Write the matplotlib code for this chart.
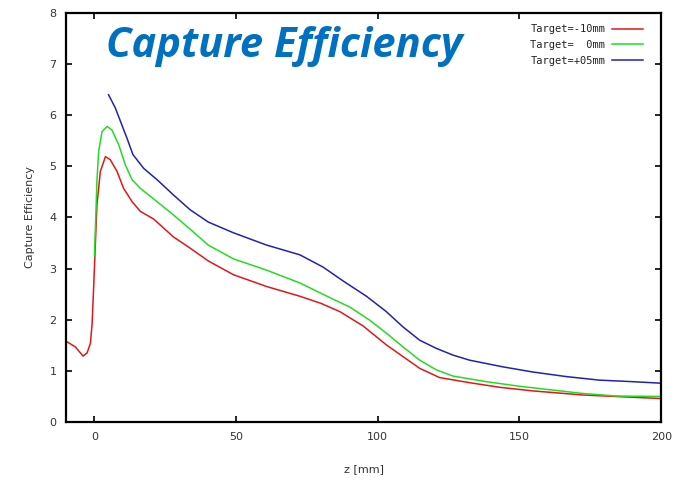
import matplotlib
matplotlib.use("Agg")
import matplotlib.pyplot as plt

# capture efficiency vs z for three target positions
z_m10 = [-10, -6.7, -4.0, -2.6, -1.4, -0.8, -0.2, 0.35, 0.9, 2.1, 3.9, 5.6, 8.0, 10.3,
         13.3, 16.2, 20.9, 27.9, 33.8, 40.2, 49.1, 60.8, 72.5, 80, 86.6, 94.8, 103,
         108.9, 114.8, 121.8, 132.4, 143, 154.6, 172.2, 184, 200]
ce_m10 = [1.58, 1.47, 1.29, 1.35, 1.54, 1.93, 2.72, 3.50, 4.25, 4.90, 5.19, 5.13, 4.90, 4.57,
          4.31, 4.12, 3.97, 3.62, 3.40, 3.15, 2.88, 2.65, 2.46, 2.32, 2.16, 1.88, 1.51,
          1.28, 1.05, 0.87, 0.77, 0.68, 0.61, 0.53, 0.50, 0.46]

z_0 = [0.0, 0.35, 0.9, 1.5, 2.7, 4.5, 6.2, 8.6, 10.9, 13.3, 16.2, 22.1, 27.9, 33.8,
       40.2, 49.1, 60.8, 72.5, 84.3, 90.1, 97.2, 103, 108.9, 114.8, 120.7, 126.5,
       138.3, 150, 172.2, 184, 200]
ce_0 = [3.25, 3.79, 4.72, 5.29, 5.68, 5.78, 5.71, 5.42, 5.03, 4.74, 4.57, 4.31, 4.05, 3.77,
        3.46, 3.19, 2.97, 2.72, 2.40, 2.25, 1.99, 1.74, 1.47, 1.21, 1.02, 0.90,
        0.79, 0.70, 0.56, 0.51, 0.50]

z_p05 = [5.0, 7.4, 9.2, 11.5, 13.6, 17.4, 22.1, 27.9, 33.8, 40.2, 49.1, 60.8, 72.5, 80.7,
         88, 96, 103, 108.9, 114.8, 120.7, 126.5, 132.4, 144.1, 154.6, 166.4, 178.2,
         189.9, 200]
ce_p05 = [6.40, 6.14, 5.88, 5.55, 5.23, 4.96, 4.74, 4.44, 4.15, 3.91, 3.70, 3.46, 3.27, 3.03,
          2.75, 2.46, 2.16, 1.86, 1.60, 1.44, 1.31, 1.21, 1.08, 0.98, 0.89, 0.82,
          0.79, 0.76]

labels = ["Target=-10mm", "Target=  0mm", "Target=+05mm"]
colors = ["#e01818", "#22dd22", "#2222b0"]

fig = plt.figure(figsize=(6.74, 4.78), dpi=100)
ax = fig.add_axes([0.098, 0.117, 0.883, 0.856])

for z, ce, lab, col in zip([z_m10, z_0, z_p05], [ce_m10, ce_0, ce_p05], labels, colors):
    ax.plot(z, ce, color=col, lw=1.1, label=lab)

ax.set_xlim(-10, 200)
ax.set_ylim(0, 8)
ax.set_xticks([0, 50, 100, 150, 200])
ax.set_yticks(range(0, 9))
ax.tick_params(direction="in", length=4, width=1.2, top=True, right=True,
               labelsize=8, labelcolor="#333333", pad=7)
for sp in ax.spines.values():
    sp.set_linewidth(1.6)

ax.set_xlabel("z [mm]", fontsize=8, color="#333333", labelpad=16)
ax.set_ylabel("Capture Efficiency", fontsize=8, color="#333333", labelpad=10)

leg = ax.legend(loc="upper right", bbox_to_anchor=(0.985, 0.995), frameon=False,
                markerfirst=False, handlelength=3.0, handletextpad=0.6,
                labelspacing=0.55, prop={"family": "DejaVu Sans Mono", "size": 7.5})
for t in leg.get_texts():
    t.set_color("#222222")

fig.text(0.158, 0.902, "Capture Efficiency", color="#0070c0", fontsize=30,
         fontweight="bold", fontstyle="italic", family=["Open Sans", "DejaVu Sans"],
         va="center", ha="left")

fig.savefig("out.png", dpi=100)
